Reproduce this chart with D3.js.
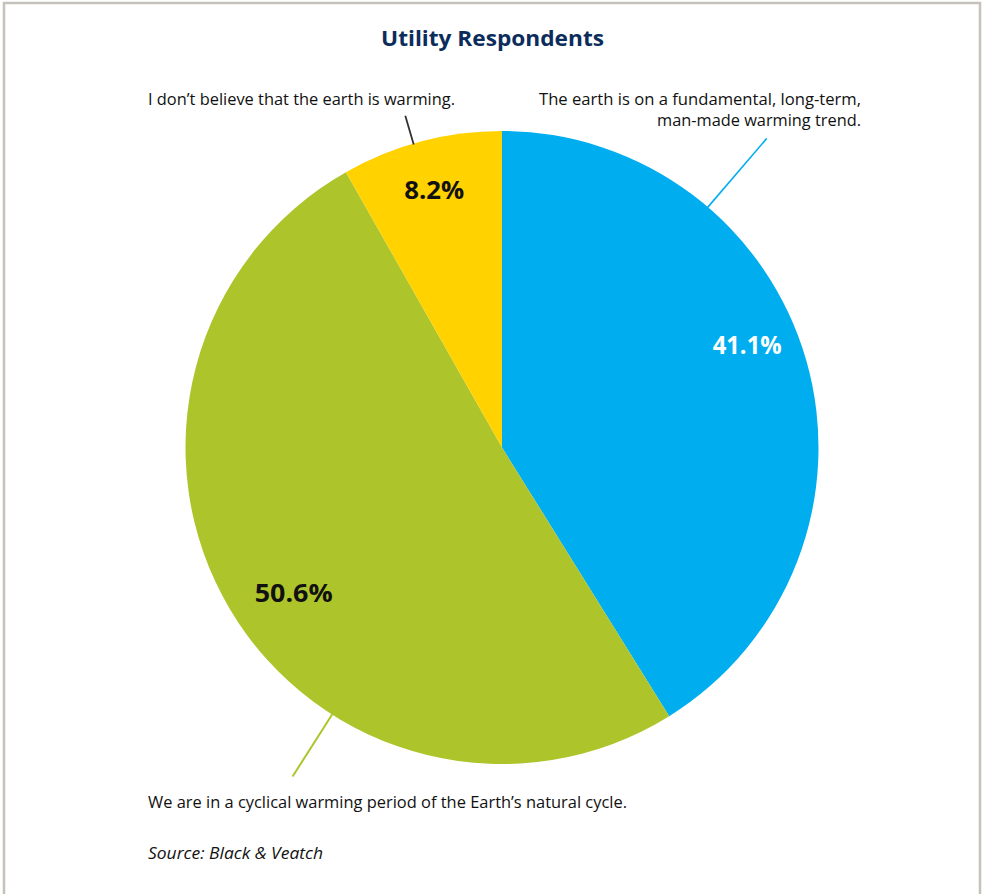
<!DOCTYPE html>
<html><head><meta charset="utf-8">
<script src="https://cdn.jsdelivr.net/npm/d3@7"></script>
<style>
html,body{margin:0;padding:0;background:#fff;}
svg{display:block;}
</style></head>
<body>
<svg id="chart" width="983" height="894"></svg>
<script>
// ---- data ----
const title = "Utility Respondents";
const categories = [
  "The earth is on a fundamental, long-term, man-made warming trend.",
  "We are in a cyclical warming period of the Earth\u2019s natural cycle.",
  "I don\u2019t believe that the earth is warming."
];
const values = [41.1, 50.6, 8.2];
const valueLabels = ["41.1%", "50.6%", "8.2%"];
const colors = ["#00aeef", "#aec42b", "#ffd200"];
const source = "Source: Black & Veatch";

// ---- layout ----
const W = 983, H = 894;
const cx = 502, cy = 447.5, R = 316.5;
const svg = d3.select("#chart");

// frame
svg.append("path")
  .attr("d", `M4,${H} L4,3 L980,3 L980,${H}`)
  .attr("fill", "none").attr("stroke", "#c5c2bb").attr("stroke-width", 2.5);

svg.append("text").attr("x", 492.5).attr("y", 46)
  .attr("text-anchor", "middle")
  .attr("font-family", "'Open Sans', sans-serif").attr("font-weight", 700)
  .attr("font-size", 22).attr("fill", "#0c2c5c")
  .attr("textLength", 223).attr("lengthAdjust", "spacingAndGlyphs")
  .text(title);

const pie = d3.pie().sort(null).value(d => d).startAngle(0).endAngle(2 * Math.PI);
const arcs = pie(values);
const arc = d3.arc().innerRadius(0).outerRadius(R);
const g = svg.append("g").attr("transform", `translate(${cx},${cy})`);

g.selectAll("path.slice").data(arcs).enter().append("path")
  .attr("class", "slice")
  .attr("d", arc)
  .attr("fill", (d, i) => colors[i]);

// value labels
const labelFrac = [0.455, 0.477, 0.5];
const labelRad = [265.6, 254, 266];
const labelColor = ["#ffffff", "#111111", "#111111"];
const labelLen = [69, 78, 60];
const pt = (a, r) => [r * Math.sin(a), -r * Math.cos(a)];
arcs.forEach((d, i) => {
  const a = d.startAngle + (d.endAngle - d.startAngle) * labelFrac[i];
  const p = pt(a, labelRad[i]);
  g.append("text").attr("x", p[0]).attr("y", p[1] + 9)
    .attr("text-anchor", "middle")
    .attr("font-family", "'Open Sans', sans-serif").attr("font-weight", 700)
    .attr("font-size", 25).attr("fill", labelColor[i])
    .attr("textLength", labelLen[i]).attr("lengthAdjust", "spacingAndGlyphs")
    .text(valueLabels[i]);
});

// leader lines
const lineFrac = [0.274, 0.353, 0.45];
const lineOuter = [407, 390, 345.5];
const lineColor = ["#00aeef", "#aec42b", "#333333"];
const lineW = [1.6, 2, 1.8];
arcs.forEach((d, i) => {
  const a = d.startAngle + (d.endAngle - d.startAngle) * lineFrac[i];
  const p1 = pt(a, R - 1), p2 = pt(a, lineOuter[i]);
  g.append("line").attr("x1", p1[0]).attr("y1", p1[1]).attr("x2", p2[0]).attr("y2", p2[1])
    .attr("stroke", lineColor[i]).attr("stroke-width", lineW[i]);
});

// category labels
const font = "'Open Sans', sans-serif";
function label(x, y, txt, anchor, len, extra) {
  const t = svg.append("text").attr("x", x).attr("y", y)
    .attr("text-anchor", anchor)
    .attr("font-family", font).attr("font-size", 17).attr("fill", "#111111")
    .text(txt);
  if (len) t.attr("textLength", len).attr("lengthAdjust", "spacingAndGlyphs");
  if (extra) extra(t);
  return t;
}
label(148, 105, categories[2], "start", 307);
label(861, 105, "The earth is on a fundamental, long-term,", "end", 322);
label(861, 126, "man-made warming trend.", "end", 204);
label(148, 808, categories[1], "start", 479);
label(148, 859, source, "start", 175, t => t.attr("font-style", "italic").attr("font-size", 15.5));
</script>
</body></html>
